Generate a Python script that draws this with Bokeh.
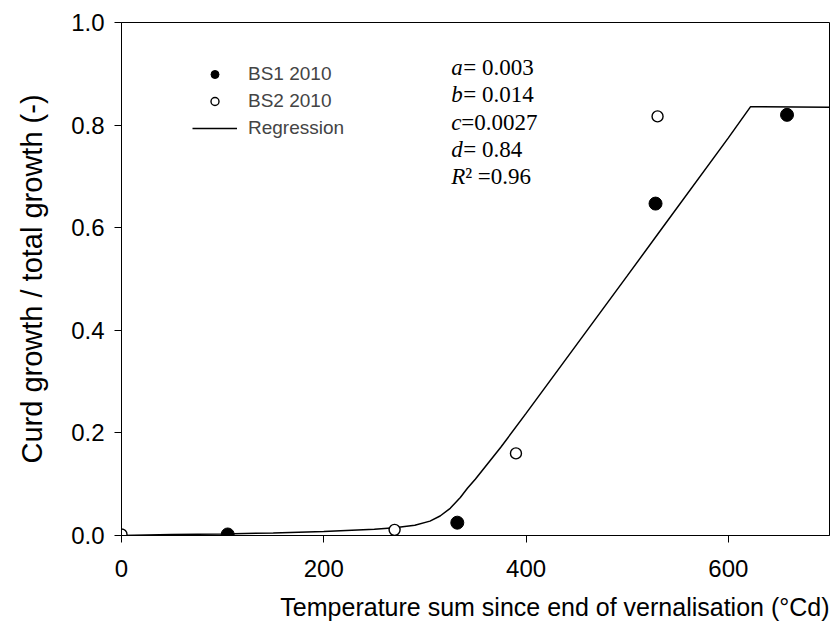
from bokeh.plotting import figure
from bokeh.models import Range1d, Label, Legend, LegendItem, Title, FixedTicker
from bokeh.embed import file_html
from bokeh.resources import INLINE

# ---- data ----
bs1_x = [105, 332, 528, 658]
bs1_y = [0.002, 0.025, 0.647, 0.82]
bs2_x = [0, 270, 390, 530]
bs2_y = [0.002, 0.011, 0.16, 0.817]
reg_x = [0, 50, 100, 150, 200, 250, 270, 290, 305, 315, 325, 335, 342, 350, 375, 400, 500, 533, 600, 622, 700]
reg_y = [0.0, 0.002, 0.003, 0.005, 0.008, 0.012, 0.015, 0.02, 0.028, 0.038, 0.053, 0.074, 0.092, 0.11, 0.172, 0.238, 0.506, 0.595, 0.775, 0.836, 0.835]
x_ticks = [0, 200, 400, 600]
y_ticks = [0.0, 0.2, 0.4, 0.6, 0.8, 1.0]
param_names = ["a", "b", "c", "d", "R"]
param_texts = ["= 0.003", "= 0.014", "=0.0027", "= 0.84", "\u00b2 =0.96"]
x_title = "Temperature sum since end of vernalisation (\u00b0Cd)"
y_title = "Curd growth / total growth (-)"

SANS = "Liberation Sans"
SERIF = "Liberation Serif"

p = figure(width=831, height=641, output_backend="svg", toolbar_location=None,
           x_range=Range1d(0, 700), y_range=Range1d(0, 1.0),
           min_border_left=121, min_border_right=2, min_border_top=22, min_border_bottom=106)
p.grid.visible = False
p.outline_line_color = "black"
p.outline_line_width = 1
p.background_fill_color = "white"
p.border_fill_color = "white"

for ax in (p.xaxis[0], p.yaxis[0]):
    ax.axis_line_color = "black"
    ax.major_tick_line_color = "black"
    ax.major_tick_out = 7
    ax.major_tick_in = 0
    ax.minor_tick_line_color = None
    ax.major_label_text_font = SANS
    ax.major_label_text_font_size = "24px"
    ax.major_label_text_color = "black"
    ax.axis_label_text_font = SANS
    ax.axis_label_text_font_style = "normal"
    ax.axis_label_text_color = "black"

p.xaxis.ticker = FixedTicker(ticks=x_ticks)
p.yaxis.ticker = FixedTicker(ticks=y_ticks)
p.yaxis.major_label_overrides = {t: f"{t:.1f}" for t in y_ticks}
p.xaxis.major_label_standoff = 17
p.yaxis.major_label_standoff = 10
p.yaxis.axis_label = y_title
p.yaxis.axis_label_text_font_size = "29px"
p.yaxis.axis_label_standoff = 20

t = Title(text=x_title, align="right", text_font=SANS, text_font_size="25px",
          text_font_style="normal", text_color="black", offset=0, standoff=22)
p.add_layout(t, "below")

line_r = p.line(reg_x, reg_y, line_color="black", line_width=1.5)
r1 = p.scatter(bs1_x, bs1_y, marker="circle", size=13, fill_color="black", line_color="black")
r2 = p.scatter(bs2_x, bs2_y, marker="circle", size=11, fill_color="white", line_color="black", line_width=1.4)

legend = Legend(items=[LegendItem(label="BS1 2010", renderers=[r1]),
                       LegendItem(label="BS2 2010", renderers=[r2]),
                       LegendItem(label="Regression", renderers=[line_r])],
                location=(71, 396), border_line_color=None, background_fill_alpha=0,
                padding=0, margin=0, spacing=5, glyph_width=45, glyph_height=20,
                label_height=20, label_standoff=11,
                label_text_font=SANS, label_text_font_size="19px")
p.add_layout(legend, "center")

ann_x = 326
ann_y0 = 0.913
ann_dy = 0.0535
offsets = {"a": 12, "b": 12, "c": 10, "d": 12, "R": 14}
for i, (nm, tx) in enumerate(zip(param_names, param_texts)):
    yy = ann_y0 - i * ann_dy
    p.add_layout(Label(x=ann_x, y=yy, text=nm, text_font=SERIF, text_font_style="italic",
                       text_font_size="23px", text_baseline="middle", text_color="black"))
    p.add_layout(Label(x=ann_x, y=yy, x_offset=offsets[nm], text=tx, text_font=SERIF,
                       text_font_size="23px", text_baseline="middle", text_color="black"))

open("out.html", "w").write(file_html(p, INLINE))
